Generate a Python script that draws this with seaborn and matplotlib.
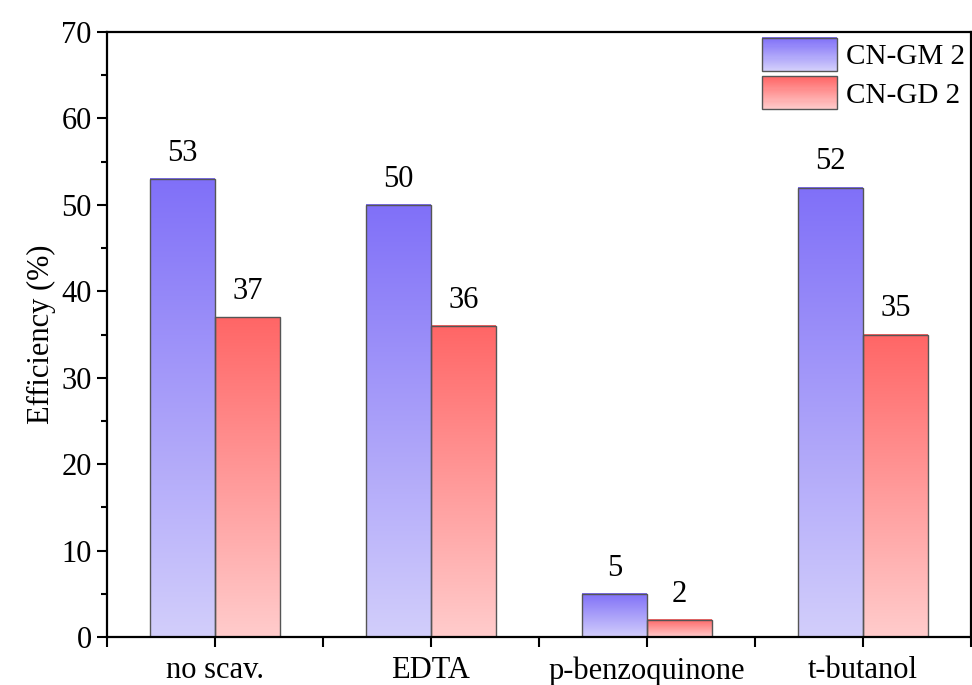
import matplotlib
matplotlib.use("Agg")
import matplotlib.pyplot as plt
import numpy as np
import pandas as pd
import seaborn as sns
from matplotlib.colors import LinearSegmentedColormap
from matplotlib.legend_handler import HandlerBase
from matplotlib.patches import Patch, Rectangle
from matplotlib.ticker import FixedLocator, MultipleLocator

# data
categories = ["no scav.", "EDTA", "p-benzoquinone", "t-butanol"]
series = ["CN-GM 2", "CN-GD 2"]
gm_values = [53, 50, 5, 52]
gd_values = [37, 36, 2, 35]

# gradient colours (bottom -> top)
grad_colors = {
    "CN-GM 2": ("#d2cefb", "#8070f8"),
    "CN-GD 2": ("#ffcccc", "#ff6666"),
}
cmaps = {k: LinearSegmentedColormap.from_list(k, v) for k, v in grad_colors.items()}

df = pd.DataFrame({
    "category": categories * 2,
    "series": [series[0]] * 4 + [series[1]] * 4,
    "value": gm_values + gd_values,
})

sns.set_style("ticks")
plt.rcParams["font.family"] = ["Liberation Serif", "DejaVu Serif"]
plt.rcParams["text.color"] = "black"
plt.rcParams["axes.labelcolor"] = "black"
plt.rcParams["xtick.color"] = "black"
plt.rcParams["ytick.color"] = "black"
plt.rcParams["axes.edgecolor"] = "black"

fig = plt.figure(figsize=(9.72, 6.85), dpi=100)
ax = fig.add_axes([107 / 972, 1 - 637 / 685, 864 / 972, 605 / 685])

sns.barplot(data=df, x="category", y="value", hue="series", order=categories,
            hue_order=series, width=0.6, ax=ax, legend=False,
            edgecolor="#555555", linewidth=1.0, saturation=1)

# replace flat fills with vertical gradients
grad = np.linspace(0, 1, 256).reshape(-1, 1)
for container, name in zip(ax.containers, series):
    for bar in container:
        x0, w, h = bar.get_x(), bar.get_width(), bar.get_height()
        ax.imshow(grad, extent=[x0, x0 + w, 0, h], origin="lower", aspect="auto",
                  cmap=cmaps[name], zorder=bar.get_zorder() - 0.1, interpolation="bilinear")
        bar.set_facecolor("none")
    ax.bar_label(container, fmt="%g", padding=8, fontsize=22)

ax.set_xlim(-0.5, 3.5)
ax.set_ylim(0, 70)

# ticks
ax.yaxis.set_major_locator(MultipleLocator(10))
ax.yaxis.set_minor_locator(MultipleLocator(5))
ax.xaxis.set_minor_locator(FixedLocator([-0.5, 0.5, 1.5, 2.5, 3.5]))
ax.tick_params(axis="both", which="major", direction="out", length=7, width=1.5, labelsize=22)
ax.tick_params(axis="y", which="minor", direction="out", length=4, width=1.5)
ax.tick_params(axis="x", which="minor", direction="out", length=7, width=1.5)
ax.tick_params(axis="y", pad=4)
ax.tick_params(axis="x", pad=7)
for s in ax.spines.values():
    s.set_linewidth(1.6)
    s.set_visible(True)

ax.set_xlabel("")
ax.set_ylabel("Efficiency (%)", fontsize=22, labelpad=4)


# legend with gradient swatches
class GradientHandler(HandlerBase):
    def create_artists(self, legend, orig_handle, xdescent, ydescent, width, height, fontsize, trans):
        cmap = cmaps[orig_handle.get_label()]
        n = 30
        arts = []
        for i in range(n):
            r = Rectangle((-xdescent, -ydescent + height * i / n), width, height / n + 0.3,
                          facecolor=cmap((i + 0.5) / n), edgecolor="none", transform=trans)
            arts.append(r)
        frame = Rectangle((-xdescent, -ydescent), width, height, facecolor="none",
                          edgecolor="#555555", linewidth=1.0, transform=trans)
        arts.append(frame)
        return arts


handles = [Patch(label=s) for s in series]
ax.legend(handles=handles, labels=series, handler_map={Patch: GradientHandler()},
          loc="upper right", bbox_to_anchor=(1.0, 1.0), frameon=False, fontsize=21,
          handlelength=2.6, handleheight=1.35, labelspacing=0.2, handletextpad=0.3,
          borderaxespad=0.1, borderpad=0.1)

plt.savefig("out.png", dpi=100)
